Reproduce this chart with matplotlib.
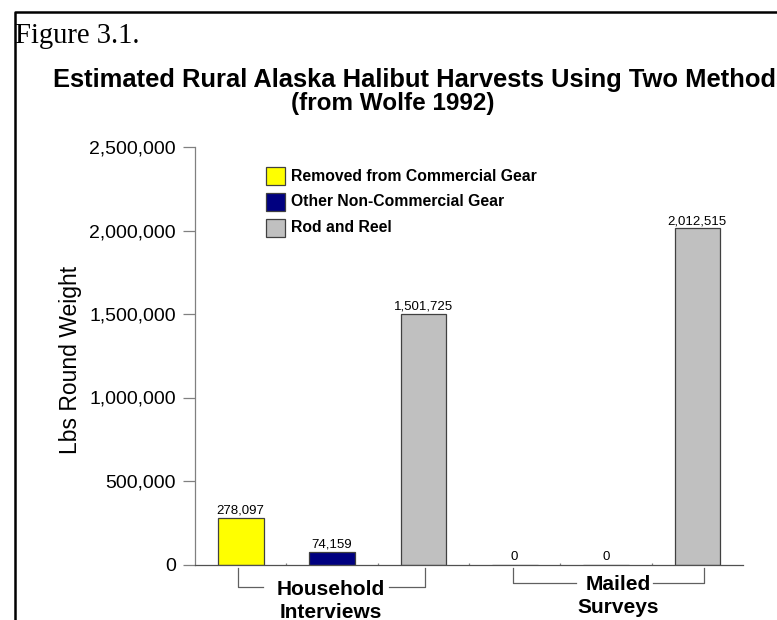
import matplotlib.pyplot as plt
import numpy as np
from matplotlib.lines import Line2D
from matplotlib.patches import Rectangle

###############################################################################
# Data
series = ["Removed from Commercial Gear", "Other Non-Commercial Gear", "Rod and Reel"]
colors = ["#FFFF00", "#000080", "#C0C0C0"]
groups = ["Household\nInterviews", "Mailed\nSurveys"]
household = [278097, 74159, 1501725]
mailed = [0, 0, 2012515]
yticks = [0, 500000, 1000000, 1500000, 2000000, 2500000]

W, H = 777, 620
plt.rcParams['font.family'] = ['Liberation Sans', 'DejaVu Sans']


def fx(x):
    return x / W


def fy(y):
    return 1 - y / H


fig = plt.figure(figsize=(W / 100, H / 100), dpi=100)
ax = fig.add_axes([fx(195), fy(564.5), fx(743) - fx(195), fy(147) - fy(564.5)])

# bars: one slot per bar, household first then mailed
values = household + mailed
bar_colors = colors + colors
xpos = np.arange(len(values))
bars = ax.bar(xpos, values, width=0.5, color=bar_colors,
              edgecolor="#404040", linewidth=0.9)
ax.bar_label(bars, labels=[f"{v:,}" for v in values], padding=1.0, fontsize=9.5)

ax.set_xlim(-0.5, len(values) - 0.5)
ax.set_ylim(0, 2500000)
ax.set_yticks(yticks)
ax.set_yticklabels([f"{v:,}" for v in yticks], fontsize=14)
ax.tick_params(axis='y', length=8.6, width=0.9, color="#808080", pad=5)
ax.set_xticks([])
ax.set_xticks(np.arange(0.5, len(values) - 0.5, 1), minor=True)
ax.tick_params(axis='x', which='minor', direction='in', length=1.6,
               width=0.9, color="#808080")
for s in ['top', 'right']:
    ax.spines[s].set_visible(False)
ax.spines['left'].set_color("#808080")
ax.spines['bottom'].set_color("#505050")
ax.spines['left'].set_linewidth(0.9)
ax.spines['bottom'].set_linewidth(0.9)

# y label placed in figure pixels
fig.text(fx(71), fy(360), "Lbs Round Weight", rotation=90, ha='center',
         va='center', fontsize=16.5)

# group brackets under the axis
tr = ax.get_xaxis_transform()
px = (564.5 - 147)


def ay(y):
    return (564.5 - y) / px


brackets = [
    # left end, text-left, text-right, right end, bracket y, text center, baselines
    (-0.03, 0.24, 1.62, 2.02, 587, 0.99, (595, 618)),
    (2.98, 3.67, 4.51, 5.07, 583, 4.13, (590, 613)),
]
for (gl, tl, trr, gr, by, tc, bases), label in zip(brackets, groups):
    ax.plot([gl, gl, tl], [ay(568), ay(by), ay(by)], transform=tr,
            color="#606060", lw=0.9, clip_on=False)
    ax.plot([trr, gr, gr], [ay(by), ay(by), ay(568)], transform=tr,
            color="#606060", lw=0.9, clip_on=False)
    for line, b in zip(label.split("\n"), bases):
        ax.text(tc, ay(b), line, transform=tr, ha='center', va='baseline',
                fontsize=15, fontweight='bold')

# legend
for i, (name, c) in enumerate(zip(series, colors)):
    yc = 176 + 26 * i
    fig.add_artist(Rectangle((fx(266), fy(yc + 9)), 19 / W, 18 / H,
                             transform=fig.transFigure, facecolor=c,
                             edgecolor="#404040", linewidth=0.9))
    fig.text(fx(291), fy(yc), name, ha='left', va='center',
             fontsize=11.3, fontweight='bold')

# titles (first line runs past the right edge, as in the source)
fig.text(fx(53), fy(87), "Estimated Rural Alaska Halibut Harvests Using Two Methods",
         ha='left', va='baseline', fontsize=18.4, fontweight='bold')
fig.text(fx(393), fy(110), "(from Wolfe 1992)", ha='center', va='baseline',
         fontsize=17.5, fontweight='bold')
fig.text(fx(15), fy(43), "Figure 3.1.", ha='left', va='baseline',
         fontsize=20.6, family=['Liberation Serif', 'DejaVu Serif'])

# page frame
fig.add_artist(Line2D([fx(14.5), fx(14.5), 1.0], [0, fy(11.5), fy(11.5)],
                      transform=fig.transFigure, color='black', lw=1.8))

fig.savefig("out.png", dpi=100)
